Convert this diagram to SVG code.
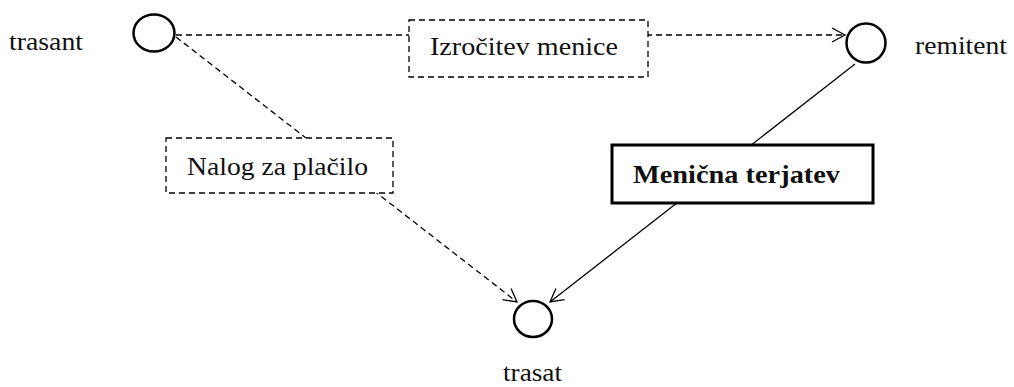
<svg xmlns="http://www.w3.org/2000/svg" width="1014" height="387" viewBox="0 0 1014 387">
  <style>
    .lbl { font-family: "Liberation Serif", "DejaVu Serif", "Times New Roman", serif; font-size: 26px; fill: #111; }
    .bold { font-weight: bold; }
    .node { fill: #fff; stroke: #000; stroke-width: 2.5; }
    .dash { fill: none; stroke: #000; stroke-width: 1.3; stroke-dasharray: 6 4; }
    .solid { fill: none; stroke: #000; stroke-width: 1.3; }
    .dbox { fill: #fff; stroke: #000; stroke-width: 1.3; stroke-dasharray: 6 4; }
    .sbox { fill: #fff; stroke: #000; stroke-width: 3; }
  </style>
  <defs>
    <marker id="open" markerUnits="userSpaceOnUse" markerWidth="16" markerHeight="16" viewBox="-14 -8 16 16" refX="0" refY="0" orient="auto">
      <path d="M-13,-7 L0,0 L-13,7" fill="none" stroke="#000" stroke-width="1.3"/>
    </marker>
  </defs>

  <!-- connectors -->
  <g id="connectors">
    <line class="dash" x1="176" y1="35" x2="845" y2="35" marker-end="url(#open)"/>
    <line class="dash" x1="176" y1="37" x2="517" y2="302" marker-end="url(#open)"/>
    <line class="solid" x1="855" y1="64" x2="550" y2="302" marker-end="url(#open)"/>
  </g>

  <!-- edge labels -->
  <g id="label-izrocitev">
    <rect class="dbox" x="409" y="20" width="239" height="57"/>
    <text class="lbl" x="430" y="55" textLength="188" lengthAdjust="spacingAndGlyphs">Izročitev menice</text>
  </g>
  <g id="label-nalog">
    <rect class="dbox" x="166" y="138" width="227" height="55"/>
    <text class="lbl" x="187" y="175" textLength="181" lengthAdjust="spacingAndGlyphs">Nalog za plačilo</text>
  </g>
  <g id="label-terjatev">
    <rect class="sbox" x="612" y="145" width="261" height="58"/>
    <text class="lbl bold" x="633" y="183" textLength="207" lengthAdjust="spacingAndGlyphs">Menična terjatev</text>
  </g>

  <!-- nodes -->
  <g id="trasant">
    <ellipse class="node" cx="154" cy="33" rx="20.5" ry="18.5"/>
    <text class="lbl" x="9" y="50" textLength="74" lengthAdjust="spacingAndGlyphs">trasant</text>
  </g>
  <g id="remitent">
    <ellipse class="node" cx="866" cy="43" rx="19.5" ry="19.5"/>
    <text class="lbl" x="915" y="54" textLength="92" lengthAdjust="spacingAndGlyphs">remitent</text>
  </g>
  <g id="trasat">
    <ellipse class="node" cx="533" cy="319" rx="19" ry="18"/>
    <text class="lbl" x="503" y="381" textLength="59" lengthAdjust="spacingAndGlyphs">trasat</text>
  </g>
</svg>
